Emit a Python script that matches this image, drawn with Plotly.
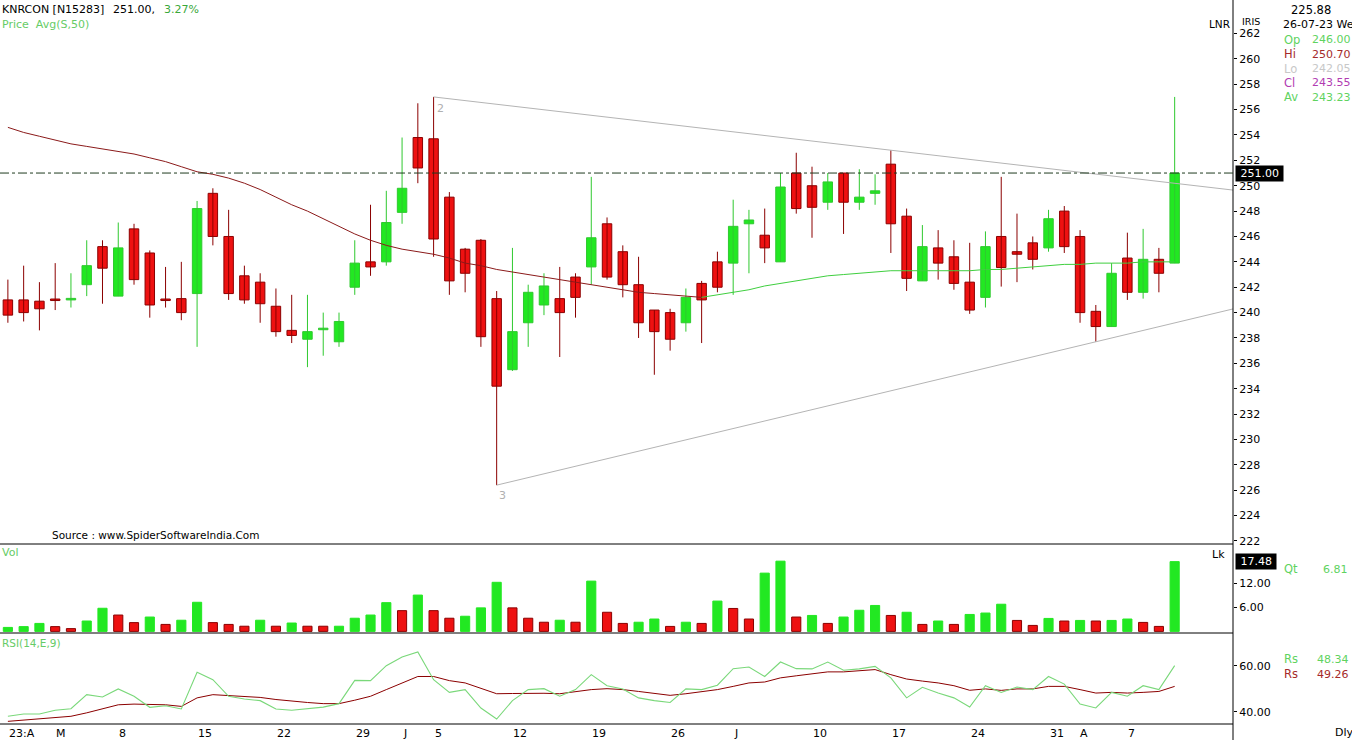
import plotly.graph_objects as go

# ---------------- data ----------------
opens = [241.0, 241.0, 240.9, 241.05, 241.0, 242.2, 245.2, 241.3, 246.6, 244.7,
         241.05, 241.1, 241.5, 249.4, 246.0, 242.9, 242.4, 240.5, 238.6, 237.9,
         238.65, 237.7, 242.0, 244.0, 244.0, 247.9, 253.8, 253.7, 249.1, 245.0,
         245.7, 241.1, 235.5, 239.2, 240.6, 241.1, 242.8, 243.6, 247.0, 244.8,
         242.2, 240.2, 240.0, 239.2, 242.3, 244.0, 243.9, 247.0, 246.1, 244.0,
         251.0, 250.0, 248.7, 251.0, 248.7, 249.4, 251.7, 247.6, 242.5, 245.1,
         244.4, 242.4, 241.2, 246.0, 244.8, 245.5, 245.1, 248.0, 246.0, 240.1,
         238.9, 244.3, 241.6, 244.2, 243.9]
highs = [242.6, 243.7, 242.4, 243.9, 243.1, 245.7, 245.7, 247.1, 247.0, 244.9,
         243.6, 244.0, 248.8, 249.8, 248.1, 243.7, 243.1, 241.9, 241.4, 241.4,
         240.0, 240.0, 245.7, 248.5, 249.6, 253.8, 256.5, 257.0, 249.5, 245.1,
         245.8, 241.7, 245.1, 242.2, 243.1, 243.6, 243.1, 250.7, 247.5, 245.3,
         244.4, 240.2, 240.3, 241.9, 242.5, 244.8, 248.9, 248.1, 248.2, 251.0,
         252.6, 251.5, 251.0, 251.0, 251.3, 250.9, 252.8, 248.2, 246.9, 246.5,
         245.7, 245.5, 246.4, 250.7, 247.8, 246.0, 248.1, 248.4, 246.5, 240.6,
         243.9, 246.3, 246.6, 245.1, 257.0]
lows = [239.2, 239.3, 238.6, 240.2, 240.4, 241.3, 240.7, 241.3, 242.2, 239.6,
        240.4, 239.4, 237.3, 245.3, 241.0, 240.7, 239.2, 238.1, 237.6, 235.7,
        236.6, 237.3, 241.4, 242.9, 243.7, 247.0, 250.2, 244.4, 241.4, 241.6,
        237.3, 226.4, 235.4, 237.3, 239.8, 236.5, 239.6, 242.2, 242.6, 241.2,
        238.0, 235.1, 237.0, 238.5, 237.6, 241.6, 241.4, 243.1, 243.9, 244.0,
        247.8, 245.9, 248.1, 246.2, 248.1, 248.5, 244.7, 241.7, 242.5, 242.6,
        241.8, 239.9, 240.4, 242.05, 242.4, 243.4, 244.8, 244.7, 239.2, 237.7,
        238.9, 241.0, 241.1, 241.6, 243.9]
closes = [239.8, 240.0, 240.3, 240.95, 241.1, 243.7, 243.5, 245.1, 242.6, 240.6,
          240.95, 240.0, 248.2, 246.0, 241.5, 241.0, 240.7, 238.5, 238.2, 238.5,
          238.75, 239.3, 243.9, 243.6, 247.1, 249.8, 251.4, 245.8, 242.5, 243.1,
          238.1, 234.2, 238.5, 241.6, 242.1, 240.0, 241.2, 245.9, 242.8, 242.2,
          239.2, 238.5, 237.9, 241.2, 241.0, 242.0, 246.8, 247.3, 245.1, 249.9,
          248.2, 248.3, 250.3, 248.7, 249.1, 249.6, 247.0, 242.7, 245.2, 243.9,
          242.3, 240.2, 245.2, 243.55, 244.6, 244.2, 247.4, 245.2, 240.0, 238.9,
          243.1, 241.6, 244.2, 243.1, 251.0]
ma50 = [254.6, 254.2, 253.9, 253.6, 253.3, 253.1, 252.9, 252.7, 252.5, 252.2,
        251.9, 251.5, 251.1, 250.9, 250.6, 250.2, 249.7, 249.1, 248.5, 248.0,
        247.4, 246.8, 246.2, 245.7, 245.3, 245.0, 244.8, 244.6, 244.3, 243.9,
        243.7, 243.4, 243.2, 243.0, 242.8, 242.6, 242.4, 242.2, 242.0, 241.8,
        241.6, 241.5, 241.4, 241.3, 241.2, 241.4, 241.6, 241.8, 242.1, 242.3,
        242.5, 242.7, 242.9, 243.0, 243.1, 243.2, 243.3, 243.3, 243.3, 243.3,
        243.3, 243.3, 243.4, 243.4, 243.5, 243.6, 243.7, 243.8, 243.8, 243.9,
        243.9, 243.9, 244.0, 244.0, 244.0]
ma_turn_index = 44  # moving average drawn red before, green after
volume = [1.0, 1.2, 2.0, 1.2, 0.7, 2.6, 5.8, 4.1, 2.2, 3.6,
          1.75, 2.8, 7.3, 2.2, 1.75, 1.3, 2.8, 1.3, 2.1, 1.3,
          1.3, 1.3, 3.3, 4.1, 7.2, 5.2, 9.1, 5.2, 3.3, 3.8,
          5.9, 12.3, 5.9, 3.3, 2.3, 2.8, 2.3, 12.6, 4.8, 2.0,
          2.3, 3.1, 1.25, 2.3, 2.0, 7.6, 5.75, 3.1, 14.6, 17.6,
          3.6, 4.0, 2.0, 3.6, 5.3, 6.5, 4.0, 4.8, 1.75, 2.6,
          1.75, 4.25, 4.6, 6.81, 2.75, 1.5, 3.25, 2.6, 2.75, 2.6,
          2.75, 3.1, 2.25, 1.25, 17.48]
vol_dir = list("uuudduuddu" "duudddudud" "duuuududdu" "uudddududd"
               "uudududduu" "duduuududu" "duuuddudud" "uuddu")
rsi = [38.0, 39.0, 39.0, 40.6, 41.3, 47.4, 46.4, 49.9, 46.7, 41.9,
       42.6, 41.2, 57.1, 53.9, 46.7, 45.5, 44.8, 41.2, 40.6, 41.2,
       42.0, 43.5, 53.6, 53.5, 60.0, 63.8, 66.0, 53.9, 48.4, 49.6,
       41.6, 36.8, 44.8, 49.6, 50.0, 46.7, 49.6, 56.1, 51.3, 49.9,
       46.0, 44.8, 44.0, 49.9, 49.6, 51.5, 58.7, 59.4, 55.3, 61.6,
       58.7, 58.6, 61.6, 58.0, 58.6, 59.7, 54.7, 46.0, 50.6, 48.1,
       46.0, 42.0, 51.3, 48.34, 50.7, 49.6, 55.3, 52.0, 43.3, 41.6,
       48.4, 46.7, 51.3, 49.6, 60.0]
rsi_signal = [35.8, 36.3, 36.8, 37.4, 38.0, 39.5, 41.2, 43.0, 43.3, 43.2,
              43.0, 42.3, 46.0, 47.4, 47.1, 46.7, 46.2, 45.3, 44.5, 44.0,
              43.5, 43.5, 45.0, 46.7, 49.6, 52.5, 55.3, 55.3, 53.5, 52.5,
              50.3, 47.8, 47.9, 48.1, 48.0, 47.8, 48.7, 49.6, 50.0, 49.6,
              48.8, 48.1, 47.1, 47.8, 48.6, 49.6, 51.0, 52.5, 52.9, 54.7,
              55.6, 56.5, 57.3, 57.3, 57.8, 58.3, 56.1, 54.2, 53.3, 52.5,
              51.3, 49.3, 49.9, 49.26, 49.9, 49.9, 51.0, 51.0, 49.6, 48.1,
              48.4, 48.1, 48.4, 48.8, 51.0]
x_tick_idx = [0, 3, 7, 12, 17, 22, 25, 27, 32, 37, 42, 46, 51, 56, 61, 66, 67, 71]
x_tick_text = ["23:A", "M", "8", "15", "22", "29", "J", "5", "12", "19", "26",
               "J", "10", "17", "24", "31", "A", "7"]
price_ticks = list(range(222, 263, 2))
vol_ticks = [6, 12]
rsi_ticks = [40, 60]
upper_pivots = [27, 56]   # trend line through these highs
lower_pivots = [31, 69]   # trend line through these lows
last_price = 251.00
info_rows = [("Op", "246.00"), ("Hi", "250.70"), ("Lo", "242.05"), ("Cl", "243.55"), ("Av", "243.23")]

# ---------------- styling / layout ----------------
W, H = 1352, 740
PLOT_R = 1233      # px of right axis line
PLOT_B = 724       # px of bottom axis line
X_RANGE = [-0.5, 77.7]

GREEN = "#22e822"
GREEN_WICK = "#2fc92f"
RED = "#ee1111"
RED_DARK = "#8b0000"
FONT = "DejaVu Sans"

n = len(closes)
xs = list(range(n))

fig = go.Figure()

# wicks
for up in (True, False):
    wx, wy = [], []
    for i in xs:
        if (closes[i] >= opens[i]) == up:
            wx += [i, i, None]
            wy += [lows[i], highs[i], None]
    fig.add_trace(go.Scatter(x=wx, y=wy, mode="lines", yaxis="y",
                             line=dict(color=GREEN_WICK if up else RED_DARK, width=1),
                             hoverinfo="skip", showlegend=False))

# moving average (two colour segments)
k = ma_turn_index
fig.add_trace(go.Scatter(x=xs[:k + 1], y=ma50[:k + 1], mode="lines", yaxis="y",
                         line=dict(color="#8b1a1a", width=1), showlegend=False, hoverinfo="skip"))
fig.add_trace(go.Scatter(x=xs[k:], y=ma50[k:], mode="lines", yaxis="y",
                         line=dict(color="#3fcf3f", width=1), showlegend=False, hoverinfo="skip"))

# candle bodies
for up in (True, False):
    bx, bb, bh = [], [], []
    for i in xs:
        if (closes[i] >= opens[i]) == up:
            lo = min(opens[i], closes[i])
            bx.append(i)
            bb.append(lo)
            bh.append(max(abs(closes[i] - opens[i]), 0.12))
    fig.add_trace(go.Bar(x=bx, y=bh, base=bb, yaxis="y", width=0.6,
                         marker=dict(color=GREEN if up else RED,
                                     line=dict(color=GREEN_WICK if up else RED_DARK, width=1)),
                         showlegend=False, hoverinfo="skip"))

# trend lines (through pivots, extended to right edge)
def trend(pivots, arr):
    a, b = pivots
    slope = (arr[b] - arr[a]) / (b - a)
    return [a, X_RANGE[1]], [arr[a], arr[a] + slope * (X_RANGE[1] - a)]

for piv, arr in ((upper_pivots, highs), (lower_pivots, lows)):
    tx, ty = trend(piv, arr)
    fig.add_trace(go.Scatter(x=tx, y=ty, mode="lines", yaxis="y",
                             line=dict(color="#b4b4b4", width=1), showlegend=False, hoverinfo="skip"))

# volume
for d in ("u", "d"):
    vx = [i for i in xs if vol_dir[i] == d]
    vy = [volume[i] for i in vx]
    fig.add_trace(go.Bar(x=vx, y=vy, yaxis="y2", width=0.58,
                         marker=dict(color=GREEN if d == "u" else RED,
                                     line=dict(color=GREEN if d == "u" else RED_DARK, width=1)),
                         showlegend=False, hoverinfo="skip"))

# RSI
fig.add_trace(go.Scatter(x=xs, y=rsi_signal, mode="lines", yaxis="y3",
                         line=dict(color="#8b0000", width=1), showlegend=False, hoverinfo="skip"))
fig.add_trace(go.Scatter(x=xs, y=rsi, mode="lines", yaxis="y3",
                         line=dict(color="#7ad87a", width=1.1), showlegend=False, hoverinfo="skip"))


def py(p):
    return (PLOT_B - p) / PLOT_B


def px(p):
    return p / PLOT_R


price_dom = [py(544), 1]
vol_dom = [py(633), py(544)]
rsi_dom = [0, py(633)]

axis_common = dict(side="right", ticks="outside", ticklen=3, tickcolor="black",
                   showgrid=False, zeroline=False, showline=False,
                   tickfont=dict(family=FONT, size=11, color="black"), fixedrange=True)

fig.update_layout(
    width=W, height=H,
    margin=dict(l=0, r=W - PLOT_R, t=0, b=H - PLOT_B),
    paper_bgcolor="white", plot_bgcolor="white",
    barmode="overlay", bargap=0,
    showlegend=False,
    xaxis=dict(range=X_RANGE, showticklabels=False, showgrid=False, zeroline=False,
               ticks="", showline=False, fixedrange=True),
    yaxis=dict(domain=price_dom, range=[221.76, 264.64], tickvals=price_ticks,
               ticktext=[str(t) for t in price_ticks], **axis_common),
    yaxis2=dict(domain=vol_dom, range=[-0.4, 21.9], tickvals=vol_ticks,
                ticktext=["%.2f" % t for t in vol_ticks], **axis_common),
    yaxis3=dict(domain=rsi_dom, range=[34.65, 74.2], tickvals=rsi_ticks,
                ticktext=["%.2f" % t for t in rsi_ticks], **axis_common),
)

shapes = []
for yy in (544, 633, 724):
    shapes.append(dict(type="line", xref="paper", yref="paper", x0=0, x1=1,
                       y0=py(yy), y1=py(yy), line=dict(color="black", width=1)))
shapes.append(dict(type="line", xref="paper", yref="paper", x0=1, x1=1,
                   y0=py(H), y1=1, line=dict(color="black", width=1)))
shapes.append(dict(type="line", xref="paper", yref="y", x0=0, x1=1,
                   y0=last_price, y1=last_price,
                   line=dict(color="#1f3a1f", width=1, dash="dashdot")))
fig.update_layout(shapes=shapes)

anns = []


def ann(text, x, y, color="black", size=11, xanchor="left", bg=None, yanchor="middle"):
    d = dict(text=text, xref="paper", yref="paper", x=px(x), y=py(y), xanchor=xanchor,
             yanchor=yanchor, showarrow=False,
             font=dict(family=FONT, size=size, color=color))
    if bg:
        d.update(bgcolor=bg, borderpad=1)
    anns.append(d)


ann("KNRCON [N15283]", 0, 9)
ann("%.2f," % last_price, 111, 9)
ann("3.27%", 162, 9, color="#3aa83a")
ann("Price  Avg(S,50)", 0, 24, color="#66cc66")
ann("Source : www.SpiderSoftwareIndia.Com", 50, 535, size=10.5)
ann("Vol", 0, 552, color="#66cc66")
ann("RSI(14,E,9)", 0, 643, color="#66cc66", size=10.5)
ann("LNR", 1207, 24, size=10.5)
ann("IRIS", 1240, 22, size=9.5)
ann("225.88", 1289, 10, size=11.5)
ann("26-07-23 We", 1281, 25, size=11)
row_colors = ["#5fd35f", "#a52a2a", "#c8c8c8", "#b23cb2", "#5fd35f"]
for j, (lab, val) in enumerate(info_rows):
    yy = 40 + j * 14.3
    ann(lab, 1282, yy, color=row_colors[j], size=11.5)
    ann(val, 1310, yy, color=row_colors[j], size=11)
ann("Lk", 1210, 554, size=11)
ann("Qt", 1282, 569, color="#5fd35f", size=11.5)
ann("%.2f" % volume[63], 1350, 569, color="#5fd35f", size=11, xanchor="right")
ann("Rs", 1282, 659, color="#5fd35f", size=11.5)
ann("%.2f" % rsi[63], 1351, 659, color="#5fd35f", size=11, xanchor="right")
ann("Rs", 1282, 674, color="#a52a2a", size=11.5)
ann("%.2f" % rsi_signal[63], 1351, 674, color="#a52a2a", size=11, xanchor="right")
ann("Dly", 1333, 732, size=11)

anns.append(dict(text=" %.2f " % last_price, xref="paper", yref="y", x=px(1235), y=last_price,
                 xanchor="left", yanchor="middle", showarrow=False, bgcolor="black",
                 font=dict(family=FONT, size=11, color="white")))
anns.append(dict(text=" %.2f " % volume[-1], xref="paper", yref="y2", x=px(1235), y=volume[-1],
                 xanchor="left", yanchor="middle", showarrow=False, bgcolor="black",
                 font=dict(family=FONT, size=11, color="white")))

anns.append(dict(text="2", x=upper_pivots[0], y=highs[upper_pivots[0]], xref="x", yref="y",
                 xanchor="left", yanchor="top", xshift=1, yshift=-3, showarrow=False,
                 font=dict(family=FONT, size=11, color="#b0b0b0")))
anns.append(dict(text="3", x=lower_pivots[0], y=lows[lower_pivots[0]], xref="x", yref="y",
                 xanchor="left", yanchor="top", xshift=0, yshift=-2, showarrow=False,
                 font=dict(family=FONT, size=11, color="#b0b0b0")))

for i, t in zip(x_tick_idx, x_tick_text):
    anns.append(dict(text=t, x=i, y=0, xref="x", yref="paper", xanchor="left",
                     yanchor="top", yshift=-1, xshift=(14 if t == "A" else -1), showarrow=False,
                     font=dict(family=FONT, size=11, color="black")))

fig.update_layout(annotations=anns)

fig.write_html("out.html", config={"displayModeBar": False, "staticPlot": True},
               post_script="document.body.style.margin='0';")
